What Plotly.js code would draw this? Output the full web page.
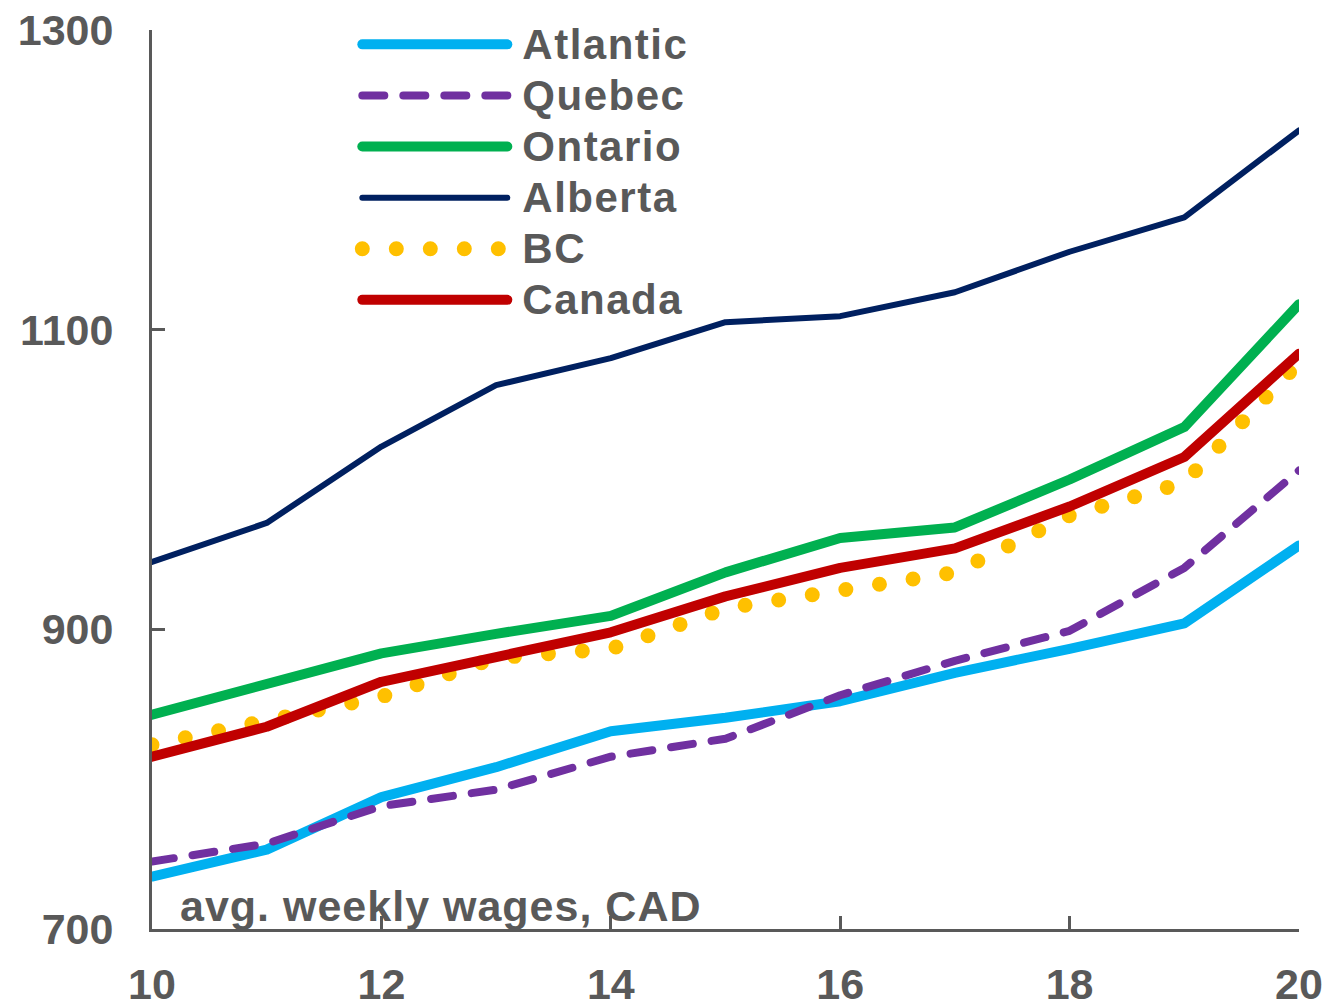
<!DOCTYPE html>
<html>
<head>
<meta charset="utf-8">
<script src="https://cdn.plot.ly/plotly-3.0.1.min.js"></script>
<style>
html,body{margin:0;padding:0;background:#fff;}
#chart{width:1331px;height:1007px;}
.js-line{stroke-linecap:round;stroke-linejoin:round;}
.legend .scrollbox{clip-path:none !important;}
.legend .legendtext{font-size:42px !important;letter-spacing:1.5px;transform:translate(10px,0);}
.legend g.traces:nth-child(5) path.js-line{stroke-width:15px !important;}
.annotation-text{letter-spacing:1px;}
</style>
</head>
<body>
<div id="chart"></div>
<script>
const years = [10, 11, 12, 13, 14, 15, 16, 17, 18, 19, 20];
const atlantic = [735, 753, 788, 808, 832, 841, 852, 871, 887, 904, 956];
const quebec   = [745, 757, 782, 793, 815, 827, 856, 879, 899, 941, 1006];
const ontario  = [843, 863, 884, 897, 909, 938, 961, 968, 1000, 1035, 1117];
const alberta  = [945, 971, 1022, 1063, 1081, 1105, 1109, 1125, 1152, 1175, 1233];
const bc       = [823, 838, 855, 881, 887, 914, 926, 938, 976, 998, 1078];
const canada   = [815, 835, 865, 882, 898, 922, 941, 954, 982, 1015, 1084];
const seriesNames = ["Atlantic", "Quebec", "Ontario", "Alberta", "BC", "Canada"];
const yTicks = [700, 900, 1100, 1300];
const xTicks = [10, 12, 14, 16, 18, 20];
const noteText = "avg. weekly wages, CAD";

const gray = "#595959";
const font = "Liberation Sans, Arial, sans-serif";

const styles = [
  {color: "#00B0F0", width: 10, dash: "solid"},
  {color: "#7030A0", width: 8, dash: "22px,19px"},
  {color: "#00B050", width: 10, dash: "solid"},
  {color: "#002060", width: 6, dash: "solid"},
  {color: "#FFC000", width: 15, dash: "0px,34px"},
  {color: "#C00000", width: 10, dash: "solid"}
];
const data = [atlantic, quebec, ontario, alberta, bc, canada];

const traces = data.map((ys, i) => ({
  type: "scatter",
  mode: "lines",
  x: years,
  y: ys,
  name: seriesNames[i],
  line: {color: styles[i].color, width: styles[i].width, dash: styles[i].dash},
  hoverinfo: "skip"
}));

const layout = {
  width: 1331,
  height: 1007,
  margin: {l: 152, r: 32, t: 30, b: 78},
  paper_bgcolor: "#ffffff",
  plot_bgcolor: "#ffffff",
  font: {family: font, color: gray, size: 40},
  showlegend: true,
  legend: {
    x: 0.179, y: 1.018, xanchor: "left", yanchor: "top",
    bgcolor: "rgba(0,0,0,0)",
    itemwidth: 145,
    font: {family: font, size: 37, color: gray, weight: "bold"},
    tracegroupgap: 0
  },
  xaxis: {
    range: [10, 20],
    tickvals: xTicks,
    ticktext: xTicks.map(String),
    showgrid: false, zeroline: false,
    showline: true, linecolor: gray, linewidth: 3,
    ticks: "inside", ticklen: 13, tickwidth: 3, tickcolor: gray,
    tickfont: {family: font, size: 43, color: gray, weight: "bold"},
    ticklabelstandoff: 15
  },
  yaxis: {
    range: [700, 1300],
    tickvals: yTicks,
    ticktext: yTicks.map(String),
    showgrid: false, zeroline: false,
    showline: true, linecolor: gray, linewidth: 3,
    ticks: "inside", ticklen: 13, tickwidth: 3, tickcolor: gray,
    tickfont: {family: font, size: 43, color: gray, weight: "bold"},
    ticklabelstandoff: 27
  },
  annotations: [{
    text: noteText,
    xref: "paper", yref: "paper",
    x: 0.023, y: 0.0, xanchor: "left", yanchor: "bottom",
    yshift: -3,
    showarrow: false,
    font: {family: font, size: 43, color: gray, weight: "bold"}
  }]
};

Plotly.newPlot("chart", traces, layout, {displayModeBar: false, staticPlot: true});
</script>
</body>
</html>
